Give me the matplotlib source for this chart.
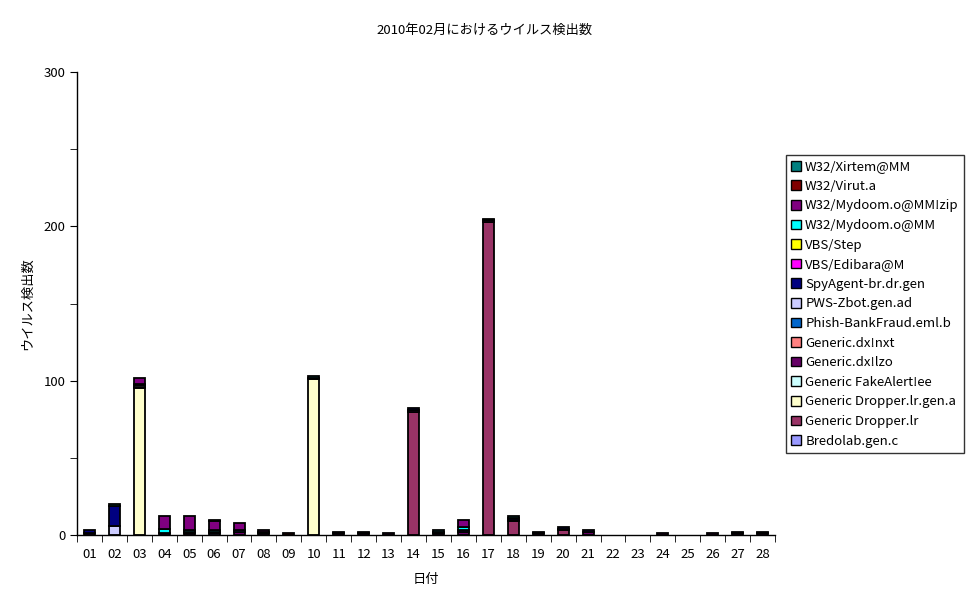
import numpy as np
import matplotlib
matplotlib.use("Agg")
import matplotlib.pyplot as plt
from matplotlib.patches import Patch
from matplotlib.ticker import MultipleLocator

plt.rcParams['font.family'] = ['Noto Sans CJK JP', 'DejaVu Sans']

days = ["%02d" % d for d in range(1, 29)]

# bottom-to-top stacking order (Excel draws them reverse of the legend)
bredolab      = [0,0,0,0,0,1,0,0,0,0, 0,0,0,0,0,0,0,0,0,0, 0,0,0,0,0,0,0,0]
dropper_lr    = [0,0,0,0,0,0,0,0,0,0, 0,0,0,80,0,0,203,9,0,3, 0,0,0,0,0,0,0,0]
dropper_gen_a = [0,0,95,0,0,0,0,0,0,101, 0,0,0,0,0,0,0,0,0,0, 0,0,0,0,0,0,0,0]
fake_alert    = [0,0,0,0,0,0,0,0,0,0, 0,0,0,0,0,0,0,0,0,0, 0,0,0,0,0,0,0,0]
dx_lzo        = [1,0,1,1,1,1,2,1,0,0, 1,1,1,1,1,2,1,1,1,1, 2,0,0,1,0,1,1,1]
dx_nxt        = [0,0,0,0,0,0,0,0,0,0, 0,0,0,0,0,0,0,0,0,0, 0,0,0,0,0,0,1,0]
phish         = [0,0,0,0,0,0,1,0,0,0, 0,0,0,0,0,0,0,0,0,0, 0,0,0,0,0,0,0,0]
pws_zbot      = [0,6,1,0,0,0,0,0,0,0, 0,0,0,0,0,0,0,0,0,0, 0,0,0,0,0,0,0,0]
spyagent      = [2,13,1,0,1,0,0,1,0,0, 1,0,0,1,1,1,1,1,0,1, 1,0,0,0,0,0,0,1]
vbs_edibara   = [0,0,0,0,0,0,0,0,0,0, 0,0,0,0,0,0,0,0,0,0, 0,0,0,0,0,0,0,0]
vbs_step      = [0,0,0,0,0,0,0,0,0,0, 0,0,0,0,0,0,0,0,0,0, 0,0,0,0,0,0,0,0]
mydoom_mm     = [0,0,0,3,1,1,0,0,0,0, 0,0,0,0,0,2,0,0,0,0, 0,0,0,0,0,0,0,0]
mydoom_zip    = [0,0,4,8,9,6,5,1,0,0, 0,1,0,0,0,5,0,0,0,0, 0,0,0,0,0,0,0,0]
virut         = [0,0,0,0,0,0,0,0,1,1, 0,0,0,0,0,0,0,0,1,0, 0,0,0,0,0,0,0,0]
xirtem        = [0,1,0,0,0,1,0,0,0,1, 0,0,0,0,1,0,0,1,0,0, 0,0,0,0,0,0,0,0]

series = [
    ("Bredolab.gen.c", bredolab, "#9999FF"),
    ("Generic Dropper.lr", dropper_lr, "#993366"),
    ("Generic Dropper.lr.gen.a", dropper_gen_a, "#FFFFCC"),
    ("Generic FakeAlert!ee", fake_alert, "#CCFFFF"),
    ("Generic.dx!lzo", dx_lzo, "#660066"),
    ("Generic.dx!nxt", dx_nxt, "#FF8080"),
    ("Phish-BankFraud.eml.b", phish, "#0066CC"),
    ("PWS-Zbot.gen.ad", pws_zbot, "#CCCCFF"),
    ("SpyAgent-br.dr.gen", spyagent, "#000080"),
    ("VBS/Edibara@M", vbs_edibara, "#FF00FF"),
    ("VBS/Step", vbs_step, "#FFFF00"),
    ("W32/Mydoom.o@MM", mydoom_mm, "#00FFFF"),
    ("W32/Mydoom.o@MM!zip", mydoom_zip, "#800080"),
    ("W32/Virut.a", virut, "#800000"),
    ("W32/Xirtem@MM", xirtem, "#008080"),
]

fig = plt.figure(figsize=(9.7, 6.04), dpi=100)
ax = fig.add_axes([77/970, 1-535/604, 698/970, 463/604])

x = np.arange(1, 29)
bottom = np.zeros(28)
handles = []
for name, vals, col in series:
    v = np.array(vals, dtype=float)
    nz = v > 0
    # skip empty segments so no stray edge lines are drawn
    ax.bar(x[nz], v[nz], 0.44, bottom=bottom[nz], color=col, edgecolor="black",
           linewidth=1.3)
    handles.append(Patch(facecolor=col, edgecolor="black", linewidth=1.0, label=name))
    bottom += v

ax.set_xlim(0.5, 28.5)
ax.set_ylim(0, 300)
ax.yaxis.set_major_locator(MultipleLocator(100))
ax.yaxis.set_minor_locator(MultipleLocator(50))
ax.set_xticks(x)
ax.set_xticklabels(days)
ax.set_xticks(np.arange(0.5, 29, 1), minor=True)
ax.tick_params(axis="x", which="major", length=0, labelsize=9.5, pad=9)
ax.tick_params(axis="x", which="minor", length=5, direction="out")
ax.tick_params(axis="y", which="both", length=5, direction="out", labelsize=9.5)

for s in ["top", "right"]:
    ax.spines[s].set_visible(False)
ax.spines["left"].set_linewidth(1.0)
ax.spines["bottom"].set_linewidth(1.0)

ax.set_xlabel("日付", fontsize=9.5, labelpad=9)
ax.set_ylabel("ウイルス検出数", fontsize=9.5, labelpad=7)
fig.text(485/970, 1-30/604, "2010年02月におけるウイルス検出数", ha="center", va="center", fontsize=9.5)

leg = fig.legend(handles=handles[::-1], loc="upper left",
                 bbox_to_anchor=(786/970, 1-155/604), fontsize=9.5,
                 frameon=True, fancybox=False, edgecolor="black",
                 handlelength=0.75, handleheight=0.75, handletextpad=0.3,
                 labelspacing=0.5, borderpad=0.4, borderaxespad=0)
leg.get_frame().set_linewidth(1.0)

fig.savefig("out.png", dpi=100)
